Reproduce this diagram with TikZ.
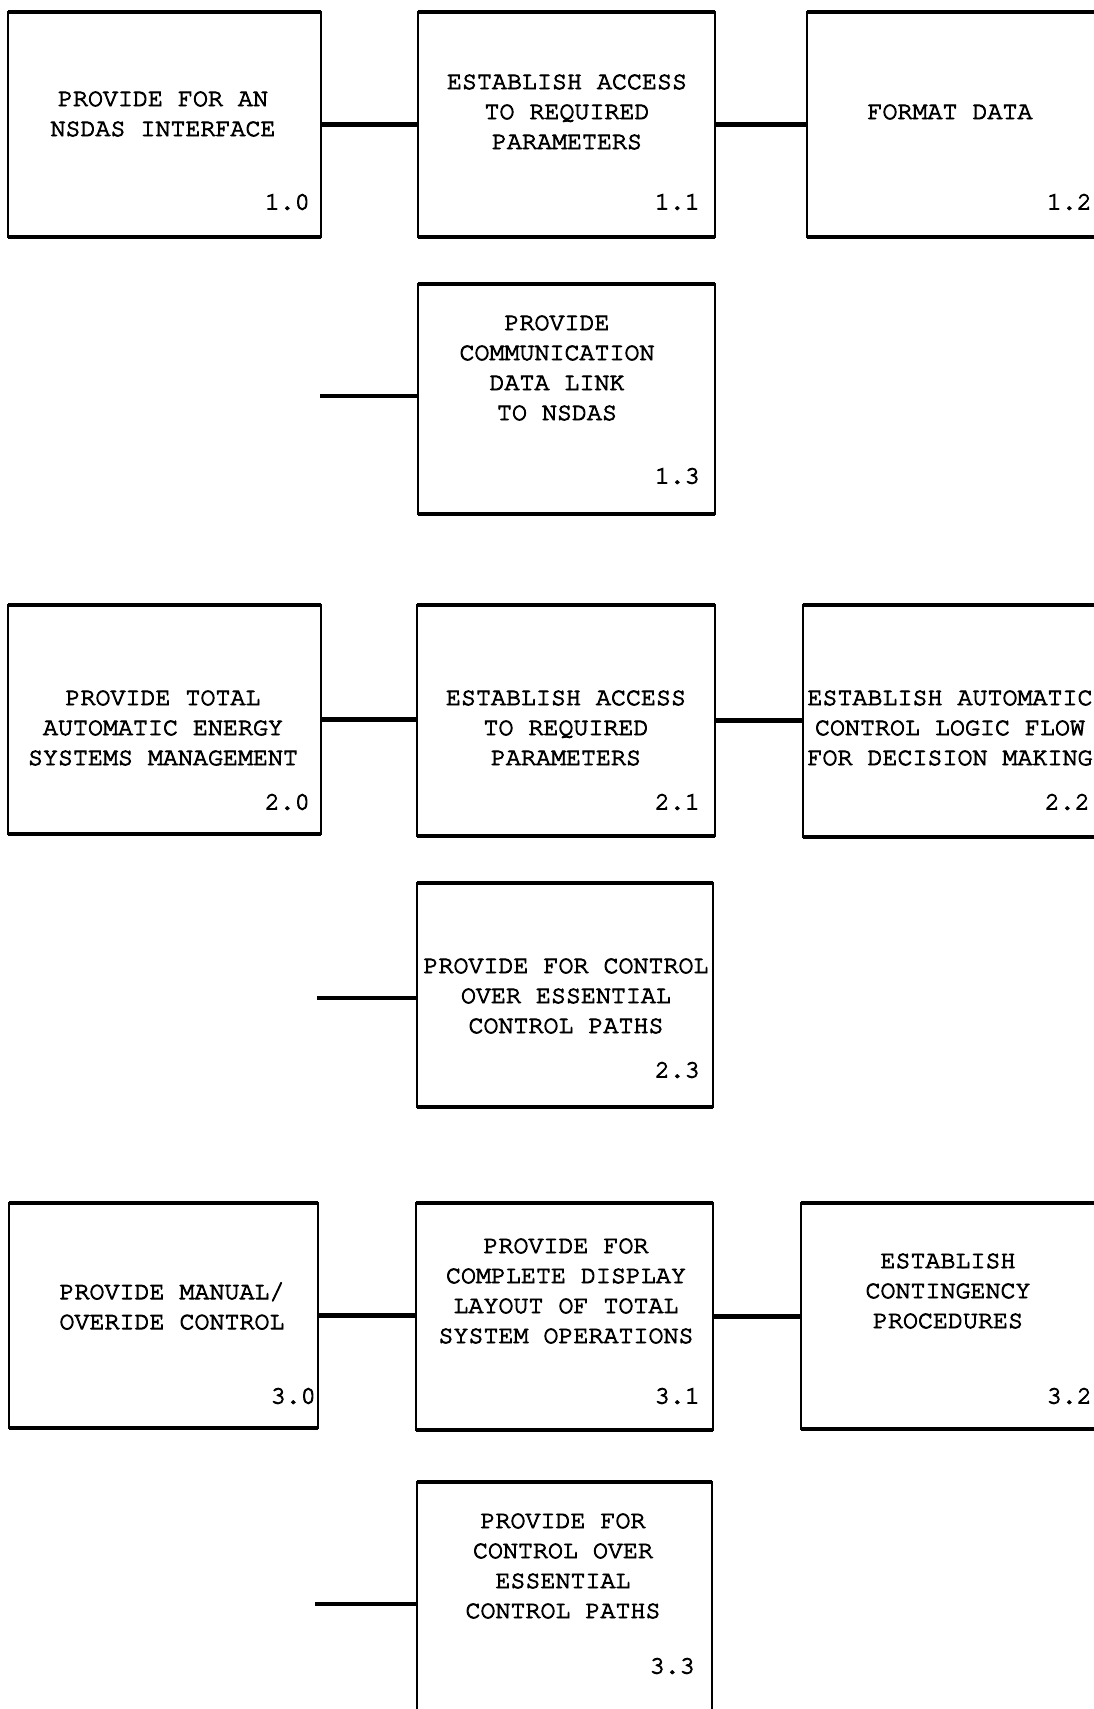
\documentclass[tikz,border=0pt]{standalone}
\usepackage{fontspec}
\setmonofont{TeX Gyre Cursor}[FakeBold=3.5]
\begin{document}
\begin{tikzpicture}[x=1pt,y=-1pt,
  box/.style={draw,line width=2.4pt,rectangle,inner sep=0pt,outer sep=0pt},
  label/.style={font=\ttfamily\fontsize{25}{30}\selectfont,align=center,inner sep=0pt},
  num/.style={font=\ttfamily\fontsize{25}{30}\selectfont,anchor=east,inner sep=0pt},
  link/.style={line width=4.4pt}]
\path[use as bounding box] (0,0) rectangle (1094,1709);
\clip (0,0) rectangle (1094,1709);

% boxes, given by their corners
\def\mkbox#1#2#3#4#5{%
  \node[box,minimum width={#4-#2},minimum height={#5-#3}] (#1) at ({(#2+#4)/2},{(#3+#5)/2}) {};}
% row 1
\mkbox{b10}{8}{12}{321}{237}
\mkbox{b11}{418}{12}{715}{237}
\mkbox{b12}{807}{12}{1104}{237}
\mkbox{b13}{418}{284}{715}{514}
% row 2
\mkbox{b20}{8}{605}{321}{834}
\mkbox{b21}{417}{605}{715}{836}
\mkbox{b22}{803}{605}{1104}{837}
\mkbox{b23}{417}{883}{713}{1107}
% row 3
\mkbox{b30}{9}{1203}{318}{1428}
\mkbox{b31}{416}{1203}{713}{1430}
\mkbox{b32}{801}{1203}{1104}{1429}
\mkbox{b33}{417}{1482}{712}{1726}

% heavier top and bottom rules
\foreach \b in {b10,b11,b12,b13,b20,b21,b22,b23,b30,b31,b32,b33}{
  \draw[line width=3.6pt] (\b.north west) -- (\b.north east);
  \draw[line width=3.6pt] (\b.south west) -- (\b.south east);
}

% box texts
\node[label] (t10) at (163,114) {PROVIDE FOR AN\\NSDAS INTERFACE};
\node[label] (t11) at (567,112) {ESTABLISH ACCESS\\TO REQUIRED\\PARAMETERS};
\node[label] (t12) at (950,112) {FORMAT DATA};
\node[label] (t13) at (557,368) {PROVIDE\\COMMUNICATION\\DATA LINK\\TO NSDAS};
\node[label] (t20) at (163,728) {PROVIDE TOTAL\\AUTOMATIC ENERGY\\SYSTEMS MANAGEMENT};
\node[label] (t21) at (566,728) {ESTABLISH ACCESS\\TO REQUIRED\\PARAMETERS};
\node[label] (t22) at (950,728) {ESTABLISH AUTOMATIC\\CONTROL LOGIC FLOW\\FOR DECISION MAKING};
\node[label] (t23) at (566,996) {PROVIDE FOR CONTROL\\OVER ESSENTIAL\\CONTROL PATHS};
\node[label] (t30) at (172,1306) {PROVIDE MANUAL/\\OVERIDE CONTROL};
\node[label] (t31) at (566,1291) {PROVIDE FOR\\COMPLETE DISPLAY\\LAYOUT OF TOTAL\\SYSTEM OPERATIONS};
\node[label] (t32) at (948,1291) {ESTABLISH\\CONTINGENCY\\PROCEDURES};
\node[label] (t33) at (563,1566) {PROVIDE FOR\\CONTROL OVER\\ESSENTIAL\\CONTROL PATHS};

% box numbers
\node[num] (n10) at (310,202) {1.0};
\node[num] (n11) at (700,202) {1.1};
\node[num] (n12) at (1092,202) {1.2};
\node[num] (n13) at (700,476) {1.3};
\node[num] (n20) at (310,802) {2.0};
\node[num] (n21) at (700,802) {2.1};
\node[num] (n22) at (1090,802) {2.2};
\node[num] (n23) at (700,1070) {2.3};
\node[num] (n30) at (316,1396) {3.0};
\node[num] (n31) at (700,1396) {3.1};
\node[num] (n32) at (1092,1396) {3.2};
\node[num] (n33) at (695,1666) {3.3};

% connectors between boxes, kept level
\draw[link] (b10.east) -- (b10.east -| b11.west);
\draw[link] (b11.east) -- (b11.east -| b12.west);
\draw[link] (b20.east) -- (b20.east -| b21.west);
\draw[link] (b21.east) -- (b21.east -| b22.west);
\draw[link] (b30.east) -- (b30.east -| b31.west);
\draw[link] (b31.east) -- (b31.east -| b32.west);

% open stubs into the lower boxes
\coordinate (s13) at (320,396);
\coordinate (s23) at (317,998);
\coordinate (s33) at (315,1604);
\draw[link] (s13) -- (s13 -| b13.west);
\draw[link] (s23) -- (s23 -| b23.west);
\draw[link] (s33) -- (s33 -| b33.west);
\end{tikzpicture}
\end{document}
